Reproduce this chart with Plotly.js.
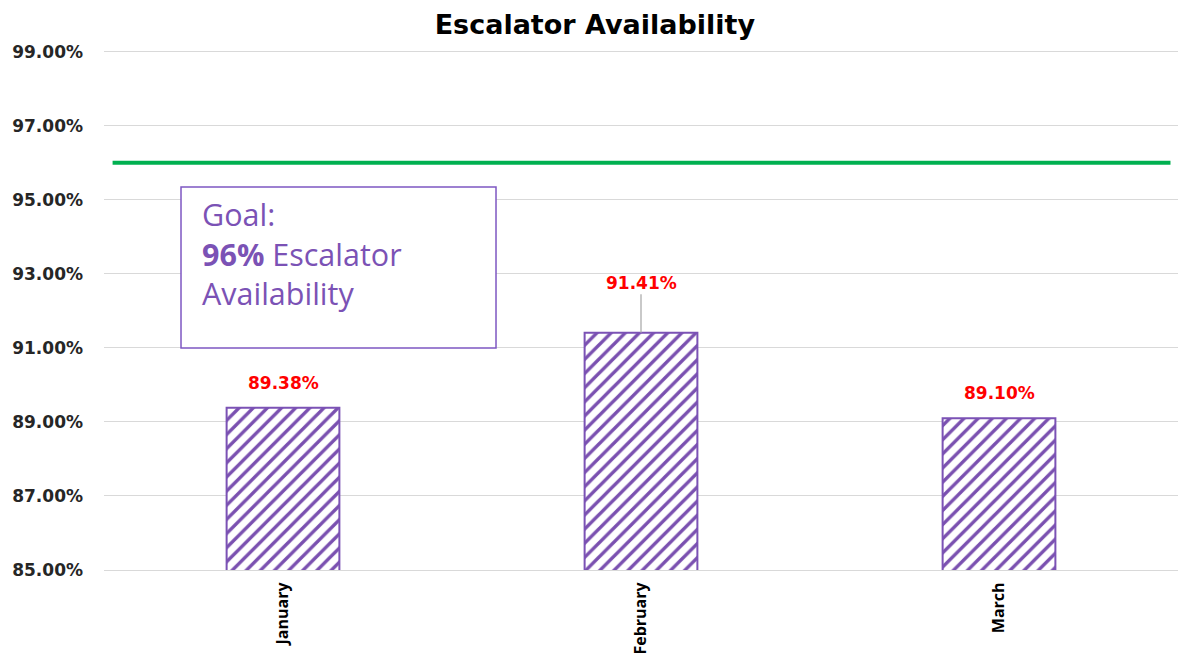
<!DOCTYPE html>
<html>
<head>
<meta charset="utf-8">
<script src="https://cdn.plot.ly/plotly-3.0.1.min.js"></script>
<style>html,body{margin:0;padding:0;background:#fff;}#chart{width:1178px;height:656px;}</style>
</head>
<body>
<div id="chart"></div>
<script>
const months = ["January", "February", "March"];
const availability = [89.38, 91.41, 89.10];
const labels = ["89.38%", "91.41%", "89.10%"];
const goal = 96;
const yTicks = [85, 87, 89, 91, 93, 95, 97, 99];
const yTickText = ["85.00%", "87.00%", "89.00%", "91.00%", "93.00%", "95.00%", "97.00%", "99.00%"];

const purple = "#7B52B5";
const labelFont = {family: "DejaVu Sans", size: 17, color: "#FF0000", weight: 700};
const trace = {
  type: "bar",
  x: months,
  y: availability,
  width: 0.315,
  marker: {
    color: "#ffffff",
    line: {color: purple, width: 2},
    pattern: {shape: "/", fgcolor: "#7A50B0", bgcolor: "#ffffff", fgopacity: 1, size: 10, solidity: 0.34, fillmode: "replace"}
  },
  hoverinfo: "skip"
};

const annotations = months.map((m, i) => {
  if (i === 1) {
    return {x: m, y: availability[i], xref: "x", yref: "y", text: "<b>" + labels[i] + "</b>",
      showarrow: true, arrowhead: 0, arrowwidth: 1.2, arrowcolor: "#a6a6a6", ax: 0, ay: -50,
      font: labelFont};
  }
  return {x: m, y: availability[i], xref: "x", yref: "y", text: "<b>" + labels[i] + "</b>",
    showarrow: false, yanchor: "bottom", yshift: 13, font: labelFont};
});
annotations.push({
  xref: "paper", yref: "paper", x: 0.0894, y: 0.727, xanchor: "left", yanchor: "top",
  align: "left", showarrow: false,
  text: "Goal:<br><b>96%</b> Escalator<br>Availability",
  font: {family: "Open Sans", size: 30.5, color: purple}
});

const layout = {
  width: 1178, height: 656,
  margin: {l: 104, r: 0, t: 48, b: 86},
  paper_bgcolor: "#ffffff", plot_bgcolor: "#ffffff",
  title: {text: "<b>Escalator Availability</b>", x: 0.505, xanchor: "center", y: 0.962, yanchor: "middle",
    font: {family: "DejaVu Sans", size: 27, color: "#000000", weight: 700}},
  showlegend: false,
  xaxis: {
    type: "category", tickangle: -90, showgrid: false, zeroline: false,
    showline: true, linecolor: "#d9d9d9", linewidth: 1, ticks: "",
    tickfont: {family: "Open Sans", size: 16, color: "#000000", weight: 700},
    ticklabelstandoff: 5
  },
  yaxis: {
    range: [85, 99.1], tickvals: yTicks, ticktext: yTickText,
    showgrid: true, gridcolor: "#d9d9d9", gridwidth: 1, zeroline: false, showline: false,
    tickfont: {family: "DejaVu Sans", size: 17, color: "#262626", weight: 700},
    ticklabelstandoff: 20
  },
  shapes: [
    {type: "line", xref: "paper", yref: "y", x0: 0.008, x1: 0.993, y0: goal, y1: goal,
      line: {color: "#00B050", width: 4}},
    {type: "rect", xref: "paper", yref: "paper", x0: 0.0717, x1: 0.365, y0: 0.4253, y1: 0.7337,
      line: {color: "#7E57C2", width: 1.5}, fillcolor: "#ffffff", layer: "above"}
  ],
  annotations: annotations
};

Plotly.newPlot("chart", [trace], layout, {staticPlot: true, displayModeBar: false});
</script>
</body>
</html>
